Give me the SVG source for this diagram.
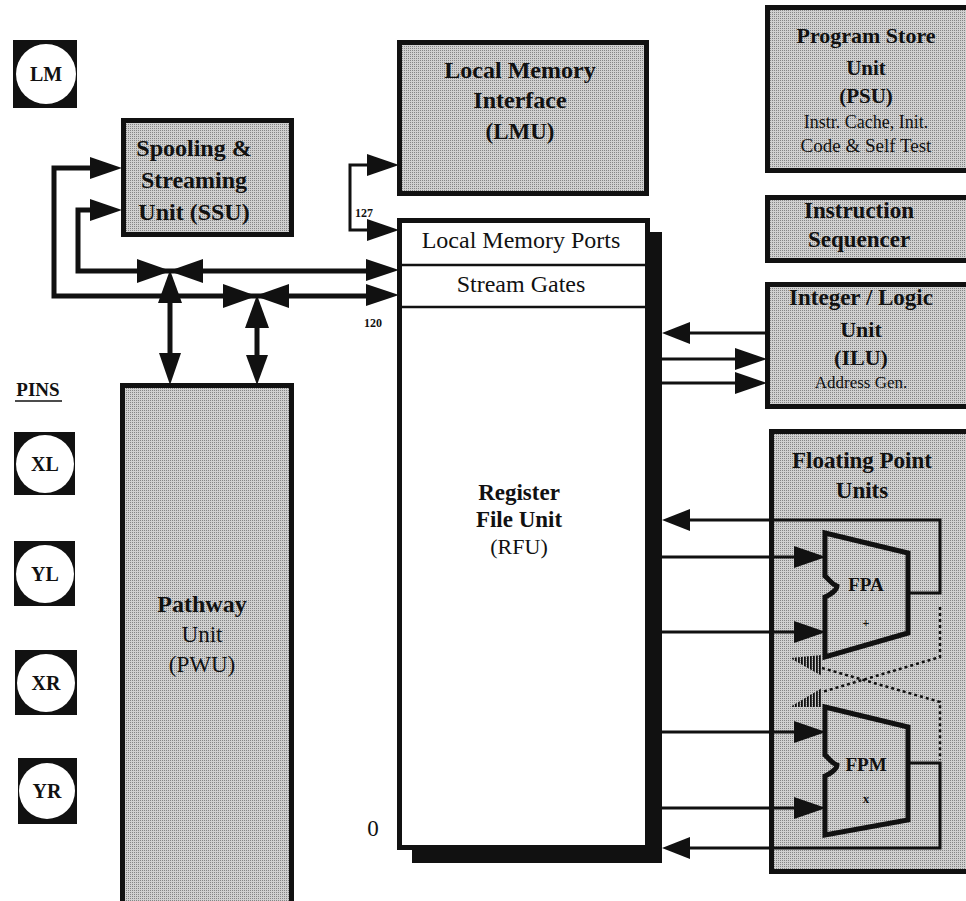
<svg xmlns="http://www.w3.org/2000/svg" width="966" height="901" viewBox="0 0 966 901">
<defs>
<pattern id="dots" width="2" height="2" patternUnits="userSpaceOnUse"><rect width="2" height="2" fill="#d0d0d0"/><rect width="1" height="1" fill="#858585"/></pattern>
<pattern id="hatch" width="3" height="10" patternUnits="userSpaceOnUse"><rect width="1.8" height="10" fill="#111"/></pattern>
<style>
.box{fill:url(#dots);stroke:#111;stroke-width:5}
.b{font-family:"Liberation Serif","Times New Roman",serif;font-weight:bold;fill:#111;text-anchor:middle}
.r{font-family:"Liberation Serif","Times New Roman",serif;font-weight:normal;fill:#111;text-anchor:middle}
.bus{fill:none;stroke:#111;stroke-width:5}
.thin{fill:none;stroke:#111;stroke-width:3}
.dash{fill:none;stroke:#111;stroke-width:2.5;stroke-dasharray:3 3}
.ah{fill:#111}
.pin{fill:#111}
.pc{fill:#fff}
</style>
</defs>
<rect width="966" height="901" fill="#fff"/>

<g id="pin-LM"><rect class="pin" x="13" y="40" width="64" height="68"/><circle class="pc" cx="46" cy="74" r="30"/><text class="b" x="46" y="81" font-size="20">LM</text></g>
<g id="pins-label"><text class="b" x="38" y="396" font-size="19">PINS</text><line x1="15" y1="401" x2="62" y2="401" stroke="#111" stroke-width="1.5"/></g>
<g id="pin-XL"><rect class="pin" x="14" y="432" width="61" height="63"/><circle class="pc" cx="45" cy="464" r="29"/><text class="b" x="45" y="471" font-size="20">XL</text></g>
<g id="pin-YL"><rect class="pin" x="14" y="541" width="61" height="65"/><circle class="pc" cx="45" cy="574" r="29"/><text class="b" x="45" y="581" font-size="20">YL</text></g>
<g id="pin-XR"><rect class="pin" x="15" y="650" width="62" height="65"/><circle class="pc" cx="46" cy="683" r="29"/><text class="b" x="46" y="690" font-size="20">XR</text></g>
<g id="pin-YR"><rect class="pin" x="18" y="758" width="59" height="66"/><circle class="pc" cx="47" cy="791" r="28"/><text class="b" x="47" y="798" font-size="20">YR</text></g>

<g id="ssu"><rect class="box" x="123.5" y="120.5" width="168" height="114"/>
<text class="b" x="194" y="156" font-size="24">Spooling &amp;</text>
<text class="b" x="194" y="188" font-size="24">Streaming</text>
<text class="b" x="194" y="220" font-size="24">Unit (SSU)</text></g>

<g id="lmu"><rect class="box" x="399.5" y="42.5" width="247" height="151"/>
<text class="b" x="520" y="78" font-size="24">Local Memory</text>
<text class="b" x="520" y="108" font-size="24">Interface</text>
<text class="b" x="520" y="139" font-size="23">(LMU)</text></g>

<g id="pwu"><rect class="box" x="122.5" y="385.5" width="169" height="540"/>
<text class="b" x="202" y="612" font-size="24">Pathway</text>
<text class="r" x="202" y="642" font-size="23">Unit</text>
<text class="r" x="202" y="672" font-size="23">(PWU)</text></g>

<g id="rfu">
<rect x="648" y="232" width="14" height="631" fill="#111"/>
<rect x="412" y="848" width="250" height="15" fill="#111"/>
<rect x="399.5" y="220.5" width="248" height="627" fill="#fff" stroke="#111" stroke-width="5"/>
<line x1="400" y1="265" x2="647" y2="265" stroke="#111" stroke-width="2.5"/>
<line x1="400" y1="307" x2="647" y2="307" stroke="#111" stroke-width="2.5"/>
<text class="r" x="521" y="248" font-size="24">Local Memory Ports</text>
<text class="r" x="521" y="292" font-size="24">Stream Gates</text>
<text class="b" x="519" y="500" font-size="23">Register</text>
<text class="b" x="519" y="527" font-size="23">File Unit</text>
<text class="r" x="519" y="554" font-size="22">(RFU)</text>
<text class="r" x="373" y="836" font-size="23">0</text>
<text class="b" x="364" y="217" font-size="12">127</text>
<text class="b" x="373" y="327" font-size="12">120</text></g>

<g id="psu"><rect class="box" x="767.5" y="7.5" width="215" height="163"/>
<text class="b" x="866" y="43" font-size="22">Program Store</text>
<text class="b" x="866" y="75" font-size="21">Unit</text>
<text class="b" x="866" y="103" font-size="21">(PSU)</text>
<text class="r" x="866" y="128" font-size="18">Instr. Cache,  Init.</text>
<text class="r" x="866" y="152" font-size="19">Code &amp; Self Test</text></g>

<g id="seq"><rect class="box" x="767.5" y="197.5" width="215" height="63"/>
<text class="b" x="859" y="218" font-size="23">Instruction</text>
<text class="b" x="859" y="247" font-size="23">Sequencer</text></g>

<g id="ilu"><rect class="box" x="767.5" y="284.5" width="215" height="122"/>
<text class="b" x="861" y="305" font-size="23">Integer / Logic</text>
<text class="b" x="861" y="337" font-size="22">Unit</text>
<text class="b" x="861" y="365" font-size="22">(ILU)</text>
<text class="r" x="861" y="388" font-size="17">Address Gen.</text></g>

<g id="fpu"><rect class="box" x="771.5" y="431.5" width="210" height="440"/>
<text class="b" x="862" y="468" font-size="23">Floating Point</text>
<text class="b" x="862" y="498" font-size="23">Units</text></g>

<g id="fpa"><path class="box" stroke-width="4" d="M825,533 L908,553 L908,633 L825,657 L825,597 C830,595 837,590 837,586 C831,584 830,580 825,576 Z"/>
<text class="b" x="866" y="591" font-size="19">FPA</text>
<text class="b" x="866" y="627" font-size="12">+</text></g>

<g id="fpm"><path class="box" stroke-width="4" d="M825,707 L908,727 L908,820 L825,835 L825,776 C830,774 837,769 837,765 C831,763 830,759 825,755 Z"/>
<text class="b" x="866" y="771" font-size="19">FPM</text>
<text class="b" x="866" y="803" font-size="13">x</text></g>

<g id="connectors">
<path class="bus" d="M95 168 H54 V296 H372"/>
<path class="bus" d="M95 210 H78 V271 H372"/>
<polygon class="ah" points="122,168 90,157 90,179"/>
<polygon class="ah" points="122,210 90,199 90,221"/>
<polygon class="ah" points="399,270 366,259 366,281"/>
<polygon class="ah" points="399,295 366,284 366,306"/>

<polygon class="ah" points="171,271 137,259 137,283"/>
<polygon class="ah" points="169,271 203,259 203,283"/>
<polygon class="ah" points="170,270 158,303 182,303"/>
<line class="bus" x1="170" y1="300" x2="170" y2="360"/>
<polygon class="ah" points="170,385 159,353 181,353"/>

<polygon class="ah" points="257,296 223,284 223,308"/>
<polygon class="ah" points="255,296 289,284 289,308"/>
<polygon class="ah" points="257,295 245,328 269,328"/>
<line class="bus" x1="257" y1="325" x2="257" y2="360"/>
<polygon class="ah" points="257,385 246,355 268,355"/>

<path class="thin" d="M370 165 H350 V230 H370"/>
<polygon class="ah" points="399,165 367,154 367,176"/>
<polygon class="ah" points="399,230 367,219 367,241"/>

<line class="thin" x1="680" y1="333" x2="767" y2="333"/>
<polygon class="ah" points="662,333 690,322 690,344"/>
<line class="thin" x1="662" y1="359" x2="740" y2="359"/>
<polygon class="ah" points="767,359 735,348 735,370"/>
<line class="thin" x1="662" y1="383" x2="740" y2="383"/>
<polygon class="ah" points="767,383 735,372 735,394"/>

<path class="thin" d="M680 520 H940 V593 H908"/>
<polygon class="ah" points="662,520 690,509 690,531"/>
<line class="thin" x1="662" y1="557" x2="800" y2="557"/>
<polygon class="ah" points="826,557 794,546 794,568"/>
<line class="thin" x1="662" y1="632" x2="800" y2="632"/>
<polygon class="ah" points="826,632 794,621 794,643"/>
<line class="thin" x1="662" y1="732" x2="800" y2="732"/>
<polygon class="ah" points="826,732 794,721 794,743"/>
<line class="thin" x1="662" y1="808" x2="800" y2="808"/>
<polygon class="ah" points="826,808 794,797 794,819"/>
<path class="thin" d="M680 848 H940 V763 H908"/>
<polygon class="ah" points="662,848 690,837 690,859"/>

<path class="dash" d="M940 607 V657 L822 692"/>
<path class="dash" d="M822 668 L940 702 V760"/>
<polygon points="790,658 822,655 822,676" fill="url(#hatch)"/>
<polygon points="790,707 822,688 822,707" fill="url(#hatch)"/>
</g>
</svg>
